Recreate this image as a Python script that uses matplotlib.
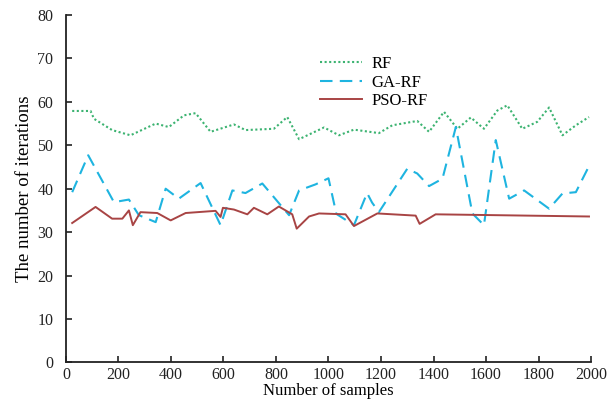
import matplotlib.pyplot as plt

plt.rcParams['font.family'] = ['Liberation Serif', 'DejaVu Serif']

# RF (dotted green)
rf_x = [24, 94, 107, 176, 246, 342, 392, 450, 494, 551, 640, 684, 792, 843, 888,
        983, 1040, 1097, 1192, 1243, 1338, 1383, 1440, 1491, 1542, 1592, 1643,
        1681, 1738, 1795, 1840, 1891, 1942, 1992]
rf_y = [57.9, 57.9, 56.1, 53.5, 52.3, 55.0, 54.2, 56.9, 57.4, 53.1, 54.8, 53.5,
        53.8, 56.5, 51.4, 54.1, 52.3, 53.6, 52.8, 54.6, 55.6, 53.1, 57.7, 53.8,
        56.4, 53.8, 58.0, 59.2, 53.8, 55.4, 58.7, 52.3, 54.6, 56.5]

# GA-RF (dashed blue)
ga_x = [24, 85, 183, 240, 278, 342, 380, 430, 513, 589, 634, 684, 748, 850, 888,
        951, 1000, 1030, 1097, 1147, 1166, 1192, 1300, 1338, 1383, 1434, 1485,
        1548, 1592, 1637, 1688, 1745, 1840, 1891, 1942, 1992]
ga_y = [39.2, 47.7, 36.9, 37.5, 33.9, 32.3, 40.0, 37.7, 41.3, 31.6, 39.6, 39.0,
        41.2, 33.9, 39.6, 41.0, 42.4, 34.2, 31.6, 39.0, 36.8, 34.6, 44.6, 43.5,
        40.6, 42.3, 54.2, 34.3, 31.6, 51.2, 37.7, 39.6, 35.4, 38.9, 39.2, 45.2]

# PSO-RF (solid brown)
pso_x = [24, 113, 176, 215, 240, 255, 284, 348, 399, 456, 570, 589, 598, 640,
         691, 716, 767, 811, 862, 879, 926, 964, 1065, 1097, 1186, 1332, 1347,
         1408, 1992]
pso_y = [32.1, 35.8, 33.1, 33.1, 35.0, 31.6, 34.6, 34.4, 32.7, 34.4, 34.9, 33.5,
         35.6, 35.2, 34.1, 35.6, 34.1, 35.9, 34.1, 30.8, 33.6, 34.3, 34.1, 31.4,
         34.3, 33.8, 31.9, 34.1, 33.6]

x_ticks = [0, 200, 400, 600, 800, 1000, 1200, 1400, 1600, 1800, 2000]
y_ticks = [0, 10, 20, 30, 40, 50, 60, 70, 80]

fig = plt.figure(figsize=(6.1, 4), dpi=100)
ax = fig.add_axes([0.108, 0.094, 0.861, 0.8685])

ax.plot(rf_x, rf_y, color='#3cb371', linestyle=(0, (1, 1.2)), linewidth=1.5, label='RF')
ax.plot(ga_x, ga_y, color='#1eb4e0', linestyle=(0, (6, 3.5)), linewidth=1.5, label='GA-RF')
ax.plot(pso_x, pso_y, color='#a84444', linestyle='-', linewidth=1.4, label='PSO-RF')

ax.set_xlim(0, 2000)
ax.set_ylim(0, 80)
ax.set_xticks(x_ticks)
ax.set_yticks(y_ticks)
ax.tick_params(direction='in', labelsize=11.5, length=4, width=1.2, colors='#222222')
ax.tick_params(axis='y', pad=9)
ax.tick_params(axis='x', pad=3)
ax.spines['top'].set_visible(False)
ax.spines['right'].set_visible(False)
for s in ['left', 'bottom']:
    ax.spines[s].set_linewidth(1.3)
    ax.spines[s].set_color('#222222')

ax.set_xlabel('Number of samples', fontsize=12, labelpad=0.5)
ax.set_ylabel('The number of iterations', fontsize=13.5, labelpad=3)

ax.legend(loc='upper left', bbox_to_anchor=(0.455, 0.925), frameon=False, fontsize=12,
          handlelength=2.5, labelspacing=0.15, handletextpad=0.6)

fig.savefig('out.png', dpi=100)
